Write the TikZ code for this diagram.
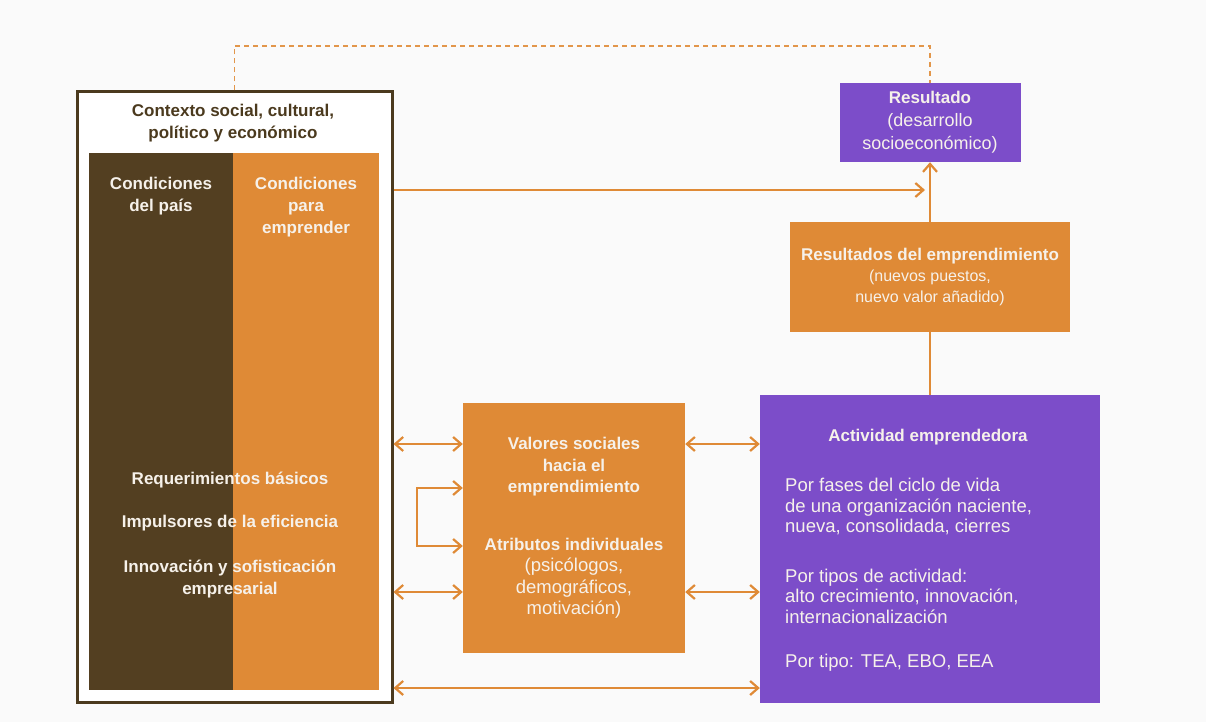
\documentclass[tikz,border=0pt]{standalone}
\usepackage{fontspec}
\setmainfont{Liberation Sans}
\usepackage{tikz}
\usetikzlibrary{arrows.meta}
\definecolor{bgcol}{HTML}{FAFAFA}
\definecolor{frame}{HTML}{4B3A1E}
\definecolor{darkbrown}{HTML}{533F21}
\definecolor{ochre}{HTML}{DF8A36}
\definecolor{violet}{HTML}{7C4DC9}
\definecolor{light}{HTML}{F6F1EA}
\tikzstyle{hd} = [font=\fontsize{17}{22}\selectfont\bfseries, align=center]
\tikzstyle{txt} = [font=\fontsize{17}{21.5}\selectfont, align=center]
\tikzstyle{link} = [draw=ochre, line width=2.2pt, >={Straight Barb[length=8pt,width=14pt]}]
\tikzstyle{dashlink} = [draw=ochre!90, line width=1.8pt, dash pattern=on 5pt off 4pt]

\begin{document}
\begin{tikzpicture}[x=1pt, y=-1pt, every node/.style={inner sep=0pt}]
        \fill[bgcol] (0,0) rectangle (1206,722);
        \useasboundingbox (0,0) rectangle (1206,722);

        % Contexto
        \node[draw=frame, line width=3pt, fill=white, minimum width=315, minimum height=610] (ctx) at (234.5,397) {};
        \node[fill=darkbrown, minimum width=144, minimum height=537] (pais) at (161,421.5) {};
        \node[fill=ochre, minimum width=146, minimum height=537] (para) at (306,421.5) {};
        \node[hd, text=frame] (ctxt) at (233,123) {Contexto social, cultural,\\político y económico};
        \node[hd, text=light] (paist) at (161,196) {Condiciones\\del país};
        \node[hd, text=light] (parat) at (306,207) {Condiciones\\para\\emprender};
        \node[hd, text=light] (req1) at (230,480) {Requerimientos básicos};
        \node[hd, text=light] (req2) at (230,523) {Impulsores de la eficiencia};
        \node[hd, text=light] (req3) at (230,579) {Innovación y sofisticación\\empresarial};

        % Valores y atributos
        \node[fill=ochre, minimum width=222, minimum height=250, txt, text=light, font=\fontsize{18.5}{21.5}\selectfont] (val) at (574,528)
          {\textbf{\fontsize{17}{21.5}\selectfont Valores sociales}\\\textbf{\fontsize{17}{21.5}\selectfont hacia el}\\\textbf{\fontsize{17}{21.5}\selectfont emprendimiento}\\[36pt]\textbf{\fontsize{17}{21.5}\selectfont Atributos individuales}\\(psicólogos,\\demográficos,\\motivación)};

        % Actividad
        \node[fill=violet, minimum width=340, minimum height=308] (act) at (930,549) {};
        \node[hd, text=light] (actt) at (928,437) {Actividad emprendedora};
        \node[txt, align=left, text=light, anchor=north west, font=\fontsize{18.5}{20.5}\selectfont] (actb) at (785,478)
          {Por fases del ciclo de vida\\de una organización naciente,\\nueva, consolidada, cierres\\[29pt]Por tipos de actividad:\\alto crecimiento, innovación,\\internacionalización\\[24pt]Por tipo: TEA, EBO, EEA};

        % Resultados
        \node[fill=ochre, minimum width=280, minimum height=110, txt, text=light, font=\fontsize{16}{21}\selectfont] (res) at (930,277)
          {\textbf{\fontsize{17}{21}\selectfont Resultados del emprendimiento}\\(nuevos puestos,\\nuevo valor añadido)};
        \node[fill=violet, minimum width=181, minimum height=79, txt, text=light, font=\fontsize{18}{23}\selectfont] (out) at (930,122.5)
          {\textbf{\fontsize{17}{23}\selectfont Resultado}\\(desarrollo\\socioeconómico)};

        % Connectors
        \coordinate (top) at (0,46);
        \coordinate (h1) at (0,190);
        \coordinate (r1) at (0,444);
        \coordinate (r2) at (0,592);
        \coordinate (r3) at (0,688);
        \coordinate (lo) at (417,488);
        \coordinate (hi) at (417,546);

        \draw[dashlink] (ctx.north) -- (ctx.north |- top) -- (out.north |- top) -- (out.north);
        \draw[link, ->] (ctx.east |- h1) -- ([xshift=-5pt]res.north |- h1);
        \draw[link, ->] (res.north) -- (out.south);
        \draw[link] (act.north) -- (res.south);
        \draw[link, <->] (ctx.east |- r1) -- (val.west |- r1);
        \draw[link, <->] (val.east |- r1) -- (act.west |- r1);
        \draw[link, <->] (ctx.east |- r2) -- (val.west |- r2);
        \draw[link, <->] (val.east |- r2) -- (act.west |- r2);
        \draw[link, <->] (ctx.east |- r3) -- (act.west |- r3);
        \draw[link, <->] (val.west |- lo) -- (lo) -- (hi) -- (val.west |- hi);
      \end{tikzpicture}
\end{document}
